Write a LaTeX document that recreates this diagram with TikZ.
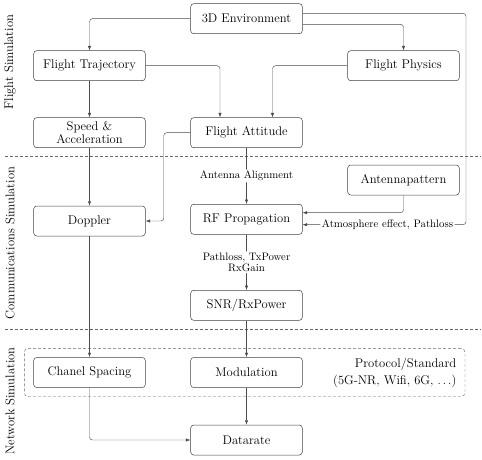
\documentclass[tikz,border=0pt]{standalone}
\usetikzlibrary{arrows.meta,calc}
\begin{document}
\begin{tikzpicture}[x=1pt,y=-1pt,
  line/.style={draw=black!70, line width=0.45pt},
  box/.style={draw=black!75, line width=0.5pt, rounded corners=3pt, minimum width=111.6pt, minimum height=30pt,
    font=\fontsize{12.6}{13.5}\selectfont, inner sep=2pt, align=center},
  conn/.style={line, -{Latex[length=4.5pt,width=3.2pt]}, rounded corners=3pt},
  lab/.style={fill=white, font=\fontsize{10.8}{11}\selectfont, inner sep=1.5pt, align=center},
  sect/.style={rotate=90, font=\fontsize{12.6}{14}\selectfont, inner sep=0pt},
  sep/.style={draw=black!60, line width=0.4pt, dash pattern=on 3pt off 2pt}
]
\useasboundingbox (0,0) rectangle (482,459);

% section separators
\draw[sep] (5,156.5) -- (481,156.5);
\draw[sep] (5,329.5) -- (481,329.5);

% section labels
\node[sect] (fs) at (10,62) {Flight Simulation};
\node[sect] (cs) at (10,243) {Communications Simulation};
\node[sect] (ns) at (10,401) {Network Simulation};

% network frame
\node[sep, rounded corners=4pt, minimum width=440.7pt, minimum height=48.4pt, inner sep=0pt]
  (net) at (244.65,372.5) {};

% boxes
\node[box] (env) at (246.5,18.7) {3D Environment};
\node[box] (traj) at (89.5,65.7) {Flight Trajectory};
\node[box] (phys) at (403.5,65.7) {Flight Physics};
\node[box] (speed) at (89.5,132.7) {Speed \&\\Acceleration};
\node[box] (att) at (246.5,132.7) {Flight Attitude};
\node[box] (ant) at (403.5,180) {Antennapattern};
\node[box] (dop) at (89.5,221) {Doppler};
\node[box] (rf) at (246.5,219.3) {RF Propagation};
\node[box] (snr) at (246.5,305.3) {SNR/RxPower};
\node[box] (chan) at (89.5,372.5) {Chanel Spacing};
\node[box] (mod) at (246.5,372.5) {Modulation};
\node[box] (dr) at (246.5,440) {Datarate};

\node[font=\fontsize{12.6}{16.5}\selectfont, align=right, anchor=east, inner sep=0pt] (proto) at (456.5,372.7)
  {Protocol/Standard\\(5G-NR, Wifi, 6G, $\ldots$)};

\coordinate (atm) at (466,224.7);

% connectors
\draw[conn] (env.west) -| (traj.north);
\draw[conn] ($(env.east)+(0,5.6)$) -| (phys.north);
\draw[conn] ($(env.east)+(0,-5.4)$) -| (atm)
  -- node[lab, pos=0.48] {Atmosphere effect, Pathloss} ($(rf.east)+(0,5.4)$);
\draw[conn] (traj.east) -| ($(att.north)+(-26.5,0)$);
\draw[conn] (phys.west) -| ($(att.north)+(26,0)$);
\draw[conn] (traj) -- (speed);
\draw[conn] (speed) -- (dop);
\draw[conn] (att.west) -- ++(-26.7,0) |- (dop.east);
\draw[conn] (att) -- node[lab] {Antenna Alignment} (rf);
\draw[conn] (ant.south) |- ($(rf.east)+(0,-6.6)$);
\draw[conn] (rf) -- node[lab] {Pathloss, TxPower\\RxGain} (snr);
\draw[conn] (snr) -- (mod);
\draw[conn] (dop) -- (chan);
\draw[conn] (mod) -- (dr);
\draw[conn] (chan.south) |- (dr.west);
\end{tikzpicture}
\end{document}
